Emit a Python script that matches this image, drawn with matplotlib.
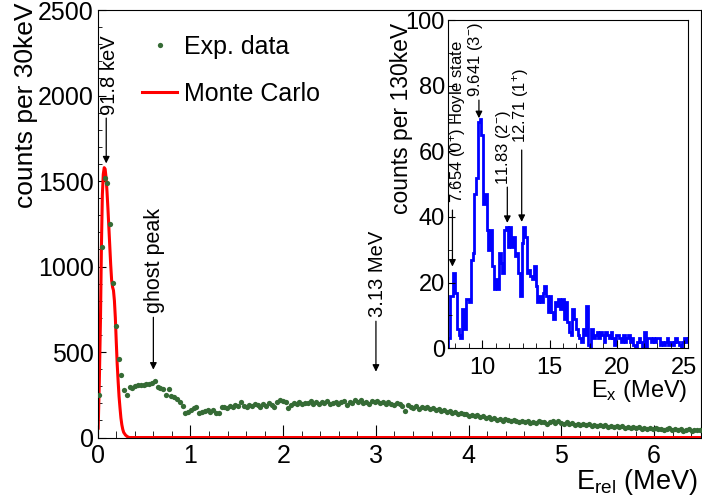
import numpy as np
import matplotlib
matplotlib.use('Agg')
import matplotlib.pyplot as plt
from matplotlib.ticker import MultipleLocator

plt.rcParams['font.family'] = ['Liberation Sans', 'DejaVu Sans']
plt.rcParams['mathtext.default'] = 'regular'

# main spectrum: relative energy, 30 keV bins starting at 0
erel_bin_width = 0.03
exp_counts = [
    250, 1115, 1515, 1490, 1250, 905, 652, 462, 364, 275,
    250, 295, 289, 299, 305, 309, 305, 313, 315, 319,
    332, 295, 288, 285, 250, 285, 240, 238, 225, 205,
    185, 142, 152, 162, 170, 178, 146, 152, 158, 162,
    150, 163, 146, 142, 176, 180, 172, 185, 178, 188,
    182, 205, 186, 178, 192, 184, 196, 188, 180, 194,
    186, 200, 192, 181, 205, 222, 212, 208, 175, 190,
    203, 198, 210, 196, 204, 200, 212, 194, 206, 198,
    208, 200, 214, 195, 203, 210, 198, 206, 214, 190,
    210, 202, 218, 206, 222, 200, 208, 196, 212, 205,
    214, 200, 205, 196, 210, 198, 190, 202, 194, 186,
    158, 188, 178, 170, 184, 165, 176, 170, 180, 168,
    172, 160, 166, 155, 162, 150, 158, 146, 152, 140,
    145, 135, 140, 128, 134, 125, 130, 120, 124, 115,
    118, 108, 115, 104, 110, 98, 106, 100, 95, 102,
    96, 90, 98, 88, 94, 86, 92, 84, 95, 88,
    90, 82, 88, 94, 84, 96, 86, 80, 88, 78,
    84, 76, 82, 74, 80, 72, 78, 70, 76, 68,
    74, 66, 72, 64, 70, 62, 68, 60, 66, 58,
    64, 56, 62, 55, 60, 52, 58, 48, 56, 50,
    54, 47, 52, 45, 50, 55, 44, 50, 42, 48,
    40, 46, 52, 38, 45, 42, 46,
]

# Monte Carlo curve
mc_erel = [0.005, 0.017, 0.03, 0.04, 0.05, 0.06, 0.07, 0.08, 0.09, 0.10,
           0.11, 0.12, 0.13, 0.14, 0.15, 0.16, 0.17, 0.18, 0.19, 0.20,
           0.21, 0.22, 0.23, 0.24, 0.25, 0.26, 0.27, 0.28, 0.30, 0.32,
           0.34, 0.36, 6.5]
mc_counts = [55, 320, 700, 1120, 1420, 1540, 1578, 1570, 1520, 1440,
             1340, 1230, 1120, 1010, 920, 880, 860, 800, 700, 560,
             430, 330, 240, 175, 115, 75, 48, 30, 14, 5,
             0, 0, 0]

# inset: excitation energy, 130 keV bins
ex_start = 7.46
ex_bin_width = 0.13
ex_counts = [
    3, 16, 16, 23, 17, 6, 4, 3, 12, 6,
    15, 15, 14, 27, 29, 47, 52, 69, 70, 65,
    44, 47, 36, 30, 36, 25, 18, 21, 18, 29,
    26, 23, 36, 37, 31, 37, 31, 34, 28, 29,
    23, 16, 32, 37, 34,
    23, 24, 22, 21, 25, 19, 14, 16, 14, 17,
    19, 16, 11, 16, 11, 9, 14, 13, 15, 12,
    15, 9, 14, 8, 5, 4, 12, 9, 6, 4,
    3, 2, 6, 4, 13, 1, 0, 6, 3, 4, 5,
    3, 5, 4, 2, 5, 4, 3, 5, 3, 1,
    4, 4, 3, 2, 4, 2, 3, 4, 2, 3,
    1, 0, 2, 3, 2, 0, 5, 0, 3, 3,
    2, 3, 2, 3, 3, 1, 2, 1, 2, 3,
    1, 2, 1, 2, 3, 2, 1, 0, 2, 3,
    2, 3,
]

erel = erel_bin_width * (np.arange(len(exp_counts)) + 0.5)
ex_edges = ex_start + ex_bin_width * np.arange(len(ex_counts) + 1)

fig = plt.figure(figsize=(7.02, 5.04), dpi=100)
ax = fig.add_axes([0.1392, 0.1319, 0.8587, 0.8482])

ax.plot(erel, exp_counts, 'o', ms=3.8, color='#356b35', mec='none',
        label='Exp. data', zorder=3)
ax.plot(mc_erel, mc_counts, '-', color='red', lw=2.2, label='Monte Carlo')

ax.set_xlim(0, 6.5)
ax.set_ylim(0, 2500)
ax.xaxis.set_major_locator(MultipleLocator(1))
ax.xaxis.set_minor_locator(MultipleLocator(0.2))
ax.yaxis.set_major_locator(MultipleLocator(500))
ax.yaxis.set_minor_locator(MultipleLocator(100))
ax.tick_params(which='both', direction='in', labelsize=18)
ax.tick_params(axis='x', which='major', length=9.4, pad=5)
ax.tick_params(axis='x', which='minor', length=5)
ax.tick_params(axis='y', which='major', length=6, pad=3)
ax.tick_params(axis='y', which='minor', length=3)

ax.legend(loc='upper left', bbox_to_anchor=(142 / 702, 1 - 35 / 504),
          bbox_transform=fig.transFigure, frameon=False, fontsize=18,
          handlelength=1.4, handletextpad=0.3, labelspacing=0.92,
          borderpad=0, borderaxespad=0, numpoints=1)

arrow = dict(arrowstyle='-|>', color='black', lw=0.9, mutation_scale=10,
             shrinkA=0, shrinkB=0)

# main annotations
ax.annotate('', xy=(0.0918, 1603), xytext=(0.0918, 1868), arrowprops=arrow)
ax.text(0.132, 1885, '91.8 keV', rotation=90, ha='center', va='bottom', fontsize=14.5)
ax.annotate('', xy=(0.6, 397), xytext=(0.6, 703), arrowprops=arrow)
ax.text(0.607, 730, 'ghost peak', rotation=90, ha='center', va='bottom', fontsize=15.5)
ax.annotate('', xy=(3.0, 385), xytext=(3.0, 680), arrowprops=arrow)
ax.text(3.017, 703, '3.13 MeV', rotation=90, ha='center', va='bottom', fontsize=14.5)

fig.text(26 / 702, 1 - 2 / 504, 'counts per 30keV', rotation=90,
         ha='center', va='top', fontsize=19)
fig.text(698 / 702, 1 - 489 / 504, r'E$_{rel}$ (MeV)', ha='right',
         va='baseline', fontsize=19.5)

# inset
axin = fig.add_axes([0.6378, 0.3089, 0.3427, 0.6514])
axin.stairs(ex_counts, ex_edges, color='blue', lw=2.0)
axin.set_xlim(7.43, 25.32)
axin.set_ylim(0, 100)
axin.xaxis.set_major_locator(MultipleLocator(5))
axin.xaxis.set_minor_locator(MultipleLocator(1))
axin.yaxis.set_major_locator(MultipleLocator(20))
axin.yaxis.set_minor_locator(MultipleLocator(10))
axin.tick_params(which='both', direction='in', labelsize=17)
axin.tick_params(axis='x', which='major', length=6, pad=6)
axin.tick_params(axis='x', which='minor', length=3.5)
axin.tick_params(axis='y', which='major', length=5, pad=2)
axin.tick_params(axis='y', which='minor', length=3)

axin.annotate('', xy=(7.78, 24.9), xytext=(7.78, 42.1), arrowprops=arrow)
axin.text(8.15, 44.3, r'7.654 (0$^{+}$) Hoyle state', rotation=90,
          ha='center', va='bottom', fontsize=12)
axin.annotate('', xy=(9.75, 70.1), xytext=(9.75, 75.6), arrowprops=arrow)
axin.text(9.48, 76.5, r'9.641 (3$^{-}$)', rotation=90,
          ha='center', va='bottom', fontsize=12)
axin.annotate('', xy=(11.86, 38.2), xytext=(11.86, 49.1), arrowprops=arrow)
axin.text(11.56, 49.7, r'11.83 (2$^{-}$)', rotation=90,
          ha='center', va='bottom', fontsize=12)
axin.annotate('', xy=(12.93, 38.5), xytext=(12.93, 60.4), arrowprops=arrow)
axin.text(12.83, 62.5, r'12.71 (1$^{+}$)', rotation=90,
          ha='center', va='bottom', fontsize=12)

fig.text(401 / 702, 1 - 23 / 504, 'counts per 130keV', rotation=90,
         ha='center', va='top', fontsize=16.5)
fig.text(687 / 702, 1 - 397 / 504, r'E$_{x}$ (MeV)', ha='right',
         va='baseline', fontsize=17)

fig.savefig('out.png', dpi=100)
